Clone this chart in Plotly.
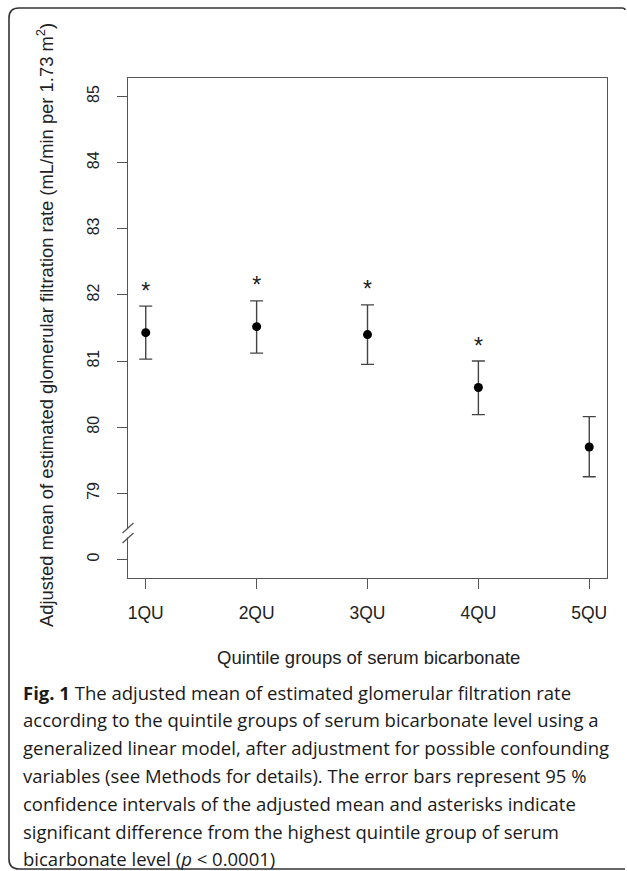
import plotly.graph_objects as go

# ---------------- data ----------------
groups = ["1QU", "2QU", "3QU", "4QU", "5QU"]
x_pos = [1, 2, 3, 4, 5]
adj_mean = [81.43, 81.52, 81.40, 80.60, 79.70]
ci_upper = [81.83, 81.91, 81.85, 81.00, 80.16]
ci_lower = [81.03, 81.12, 80.95, 80.19, 79.25]
significant = [True, True, True, True, False]

y_tickvals = [78, 79, 80, 81, 82, 83, 84, 85]
y_ticktext = ["0", "79", "80", "81", "82", "83", "84", "85"]

caption_lines = [
    "<b>Fig. 1</b> The adjusted mean of estimated glomerular filtration rate",
    "according to the quintile groups of serum bicarbonate level using a",
    "generalized linear model, after adjustment for possible confounding",
    "variables (see Methods for details). The error bars represent 95 %",
    "confidence intervals of the adjusted mean and asterisks indicate",
    "significant difference from the highest quintile group of serum",
    "bicarbonate level (<i>p</i> < 0.0001)",
]

# ---------------- layout geometry ----------------
FIG_W, FIG_H = 627, 871
L, R, T, B = 128, 20, 78, 293
PW = FIG_W - L - R
PH = FIG_H - T - B


def px(xp):
    return (xp - L) / PW


def py(yp):
    return (FIG_H - B - yp) / PH


AXC = "#555555"
TXT = "#222222"
FONT = "Liberation Sans, Arial, sans-serif"

err_plus = [u - m for u, m in zip(ci_upper, adj_mean)]
err_minus = [m - l for m, l in zip(adj_mean, ci_lower)]

fig = go.Figure()
fig.add_trace(go.Scatter(
    x=x_pos, y=adj_mean, mode="markers",
    marker=dict(color="black", size=9),
    error_y=dict(type="data", symmetric=False, array=err_plus, arrayminus=err_minus,
                 color="#444444", thickness=1.4, width=6.5),
    showlegend=False, hoverinfo="skip",
))

ast_x = [x for x, s in zip(x_pos, significant) if s]
ast_y = [u + 0.2 for u, s in zip(ci_upper, significant) if s]
fig.add_trace(go.Scatter(
    x=ast_x, y=ast_y, mode="text", text=["*"] * len(ast_x),
    textposition="middle center",
    textfont=dict(family=FONT, size=23, color=TXT),
    showlegend=False, hoverinfo="skip",
))

# axis break on y between 0 and 79
BREAK_Y = 78.4
HALF = 5 / 66.0
shapes = [
    dict(type="rect", xref="paper", yref="y", x0=-0.006, x1=0.006,
         y0=BREAK_Y - HALF * 0.9, y1=BREAK_Y + HALF * 0.9,
         fillcolor="white", line=dict(width=0), layer="above"),
    dict(type="line", xref="paper", yref="y", x0=px(L - 5.5), x1=px(L + 5.5),
         y0=BREAK_Y, y1=BREAK_Y + 2 * HALF, line=dict(color=AXC, width=1.3), layer="above"),
    dict(type="line", xref="paper", yref="y", x0=px(L - 5.5), x1=px(L + 5.5),
         y0=BREAK_Y - 2 * HALF, y1=BREAK_Y, line=dict(color=AXC, width=1.3), layer="above"),
]

# outer rounded frame
r = 10
x0f, y0f, x1f, y1f = 9, 8, 625, 869
path = (f"M {px(x1f)},{py(y0f + 2)} Q {px(x1f)},{py(y0f)} {px(x1f - 3)},{py(y0f)} "
        f"L {px(x0f + r)},{py(y0f)} "
        f"Q {px(x0f)},{py(y0f)} {px(x0f)},{py(y0f + r)} "
        f"L {px(x0f)},{py(y1f - r)} "
        f"Q {px(x0f)},{py(y1f)} {px(x0f + r)},{py(y1f)} "
        f"L {px(x1f)},{py(y1f)}")
shapes.append(dict(type="path", xref="paper", yref="paper", path=path,
                   line=dict(color="#333333", width=1.6), layer="above"))

annotations = [
    dict(text="Adjusted mean of estimated glomerular filtration rate (mL/min per 1.73 m<sup>2</sup>)",
         xref="paper", yref="paper", x=px(45), y=py(325), textangle=-90,
         showarrow=False, xanchor="center", yanchor="middle",
         font=dict(family=FONT, size=18.4, color=TXT)),
    dict(text="Quintile groups of serum bicarbonate",
         xref="paper", yref="paper", x=px(368), y=py(657),
         showarrow=False, xanchor="center", yanchor="middle",
         font=dict(family=FONT, size=18.5, color=TXT)),
]
for i, line in enumerate(caption_lines):
    annotations.append(dict(
        text=line, xref="paper", yref="paper", x=px(21), y=py(692 + i * 27.8),
        showarrow=False, xanchor="left", yanchor="middle",
        font=dict(family="Open Sans, sans-serif", size=18.5, color="#1a1a1a")))

fig.update_layout(
    width=FIG_W, height=FIG_H,
    margin=dict(l=L, r=R, t=T, b=B, pad=0),
    paper_bgcolor="white", plot_bgcolor="white",
    shapes=shapes, annotations=annotations,
    xaxis=dict(range=[0.84, 5.16], tickvals=x_pos, ticktext=groups,
               showgrid=False, zeroline=False, showline=True, mirror=True,
               linecolor=AXC, linewidth=1.3, ticks="outside", ticklen=10,
               tickcolor=AXC, tickwidth=1.3, ticklabelstandoff=9,
               tickfont=dict(family=FONT, size=17.5, color=TXT)),
    yaxis=dict(range=[77.72, 85.28], tickvals=y_tickvals, ticktext=y_ticktext,
               showgrid=False, zeroline=False, showline=True, mirror=True,
               linecolor=AXC, linewidth=1.3, ticks="outside", ticklen=10,
               tickcolor=AXC, tickwidth=1.3, tickangle=-90, ticklabelstandoff=11,
               tickfont=dict(family=FONT, size=16, color=TXT)),
)

fig.write_html("out.html", config={"displayModeBar": False},
               post_script="document.body.style.margin='0';")
